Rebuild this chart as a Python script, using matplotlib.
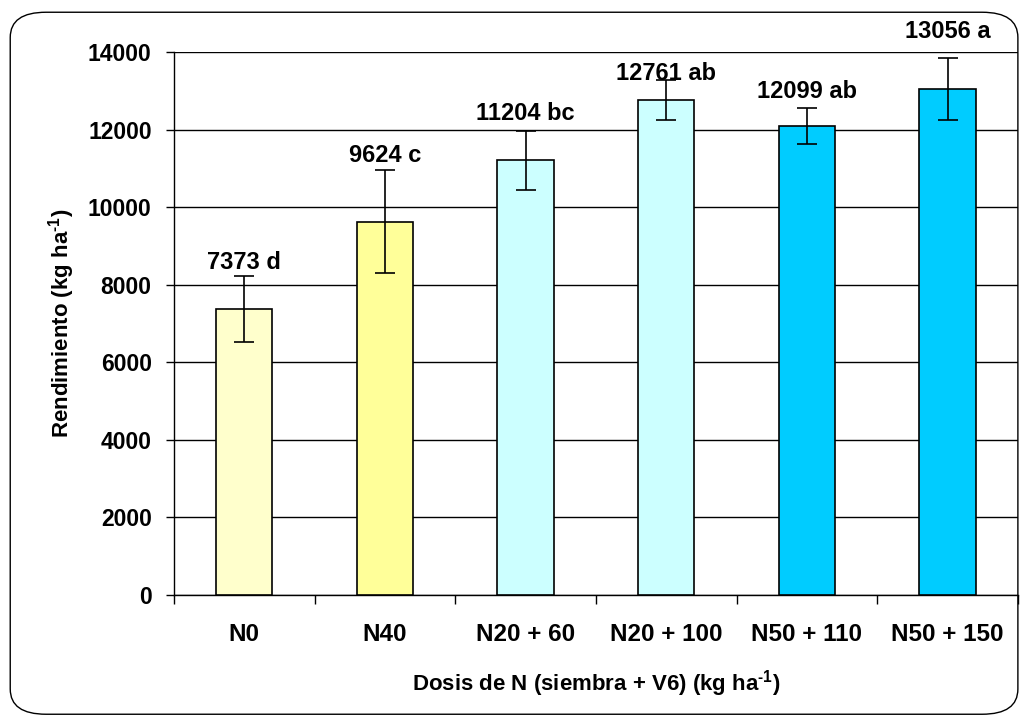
import matplotlib.pyplot as plt
from matplotlib.patches import FancyBboxPatch
import numpy as np

# rendimiento por tratamiento (kg/ha)
categories = ["N0", "N40", "N20 + 60", "N20 + 100", "N50 + 110", "N50 + 150"]
yield_kg = [7373, 9624, 11204, 12761, 12099, 13056]
err = [850, 1330, 770, 520, 460, 800]
letters = ["d", "c", "bc", "ab", "ab", "a"]
label_y = [8560, 11343, 12426, 13457, 12993, 14540]
colors = ["#FFFFCC", "#FFFF99", "#CCFFFF", "#CCFFFF", "#00CCFF", "#00CCFF"]

plt.rcParams["font.family"] = ["Liberation Sans", "DejaVu Sans"]
plt.rcParams["font.weight"] = "bold"
plt.rcParams["mathtext.fontset"] = "custom"
plt.rcParams["mathtext.bf"] = "Liberation Sans:bold"
plt.rcParams["mathtext.rm"] = "Liberation Sans:bold"

fig = plt.figure(figsize=(10.23, 7.2), dpi=100)
ax = fig.add_axes([0.170, 0.1736, 0.825, 0.7542])

# rounded frame around the whole chart
frame = FancyBboxPatch((0.010, 0.008), 0.985, 0.975,
                       boxstyle="round,pad=0,rounding_size=0.035",
                       transform=fig.transFigure, fill=False,
                       edgecolor="black", linewidth=1.0, zorder=0)
fig.patches.append(frame)

x = np.arange(len(categories))
ax.bar(x, yield_kg, width=0.4, color=colors, edgecolor="black",
       linewidth=1.2, zorder=3)
ax.errorbar(x, yield_kg, yerr=err, fmt="none", ecolor="black",
            elinewidth=1.2, capsize=7, capthick=1.2, zorder=4)

for xi, v, lt, ly in zip(x, yield_kg, letters, label_y):
    ax.text(xi, ly, f"{v} {lt}", ha="center", va="center",
            fontsize=17, fontweight="bold", zorder=5, clip_on=False)

ax.set_xlim(-0.5, len(categories) - 0.5)
ax.set_ylim(0, 14000)
ax.set_yticks(np.arange(0, 14001, 2000))
ax.yaxis.grid(True, color="black", linewidth=1.0, zorder=0)
ax.set_axisbelow(True)

ax.set_xticks(x)
ax.set_xticklabels(categories, fontsize=17.5, fontweight="bold")
ax.tick_params(axis="x", length=0, pad=20)
ax.set_xticks(np.arange(-0.5, len(categories), 1.0), minor=True)
ax.tick_params(axis="x", which="minor", length=6.5, width=1, direction="out")
ax.tick_params(axis="y", length=6, width=1, direction="out", labelsize=16.5,
               pad=10)
for lab in ax.get_yticklabels():
    lab.set_fontweight("bold")

for s in ["top", "right"]:
    ax.spines[s].set_visible(False)
ax.spines["left"].set_linewidth(1.0)
ax.spines["bottom"].set_linewidth(1.0)

ax.set_xlabel("Dosis de N (siembra + V6) (kg ha$^{\\text{-1}}$)",
              fontsize=16, fontweight="bold", labelpad=16)
ax.set_ylabel("Rendimiento (kg ha$^{\\text{-1}}$)",
              fontsize=16, fontweight="bold", labelpad=8)

fig.savefig("out.png", dpi=100)
